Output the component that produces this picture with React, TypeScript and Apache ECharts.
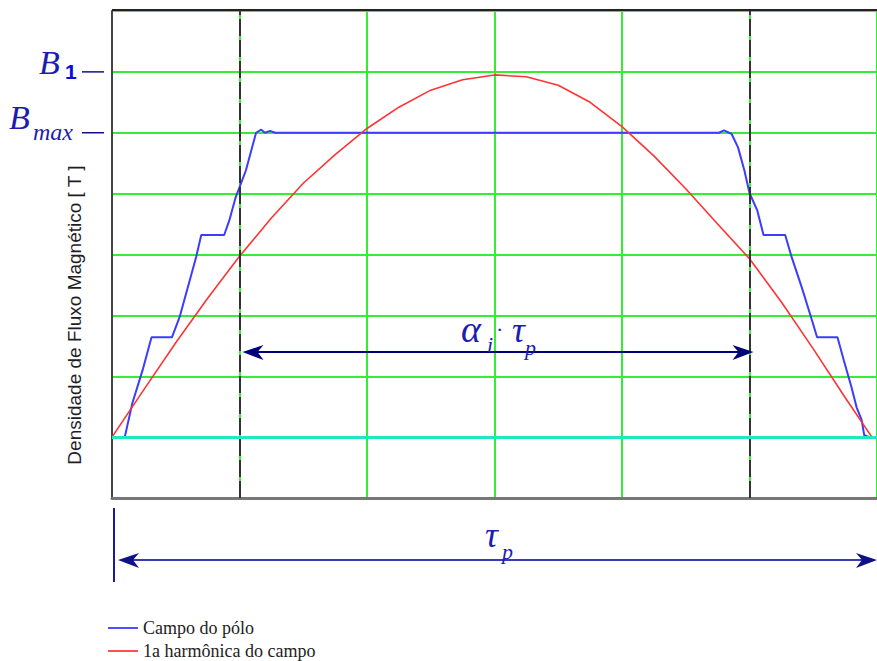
import React, { useEffect, useRef } from "react";
import * as echarts from "echarts";

// Pole field (flux density under one pole pitch), in grid units
const poleX = [0, 0.1, 0.16, 0.24, 0.31, 0.47, 0.53, 0.66, 0.7, 0.88, 0.92, 0.97, 1.05, 1.13, 1.17, 1.2, 1.24, 1.28, 2.0, 3.0, 4.0, 4.76, 4.8, 4.84, 4.86, 4.91, 4.96, 5.0, 5.06, 5.11, 5.28, 5.33, 5.41, 5.49, 5.53, 5.69, 5.74, 5.8, 5.84, 5.88, 5.9, 5.94, 6.0];
const poleB = [0, 0, 0.56, 1.1, 1.64, 1.64, 1.97, 2.96, 3.32, 3.32, 3.56, 3.94, 4.38, 5.0, 5.05, 5.0, 5.03, 5.0, 5.0, 5.0, 5.0, 5.0, 5.04, 5.0, 4.98, 4.76, 4.38, 4.01, 3.73, 3.32, 3.32, 2.96, 2.46, 1.92, 1.64, 1.64, 1.26, 0.82, 0.49, 0.28, 0.03, 0, 0];

// First harmonic of the field
const harmX = [0, 0.25, 0.5, 0.75, 1.0, 1.25, 1.5, 1.75, 2.0, 2.25, 2.5, 2.75, 3.0, 3.25, 3.5, 3.75, 4.0, 4.25, 4.5, 4.75, 5.0, 5.25, 5.5, 5.75, 5.96];
const harmB = [0, 0.78, 1.55, 2.28, 2.97, 3.6, 4.17, 4.64, 5.07, 5.42, 5.7, 5.87, 5.95, 5.92, 5.78, 5.5, 5.1, 4.62, 4.08, 3.5, 2.93, 2.22, 1.45, 0.65, 0];

const seriesNames = ["Campo do pólo", "1a harmônica do campo"];
const yAxisTitle = "Densidade de Fluxo Magnético [ T ]";
const alphaSpan = [1, 5]; // α_i·τ_p boundaries (dashed lines)
const B1Level = 6;
const BmaxLevel = 5;

const GREEN = "#33ee33";
const NAVY = "#10108a";
const MATH = "#1c1cb0";

export default function App() {
  const ref = useRef<HTMLDivElement>(null);

  useEffect(() => {
    if (!ref.current) return;
    const chart = echarts.init(ref.current, null, { renderer: "svg" });

    const serif = "'Liberation Serif', 'DejaVu Serif', serif";
    const sans = "'Liberation Sans', Arial, sans-serif";

    const gridLeft = 112;
    const gridTop = 11;
    const gridW = 771;
    const gridH = 487;
    const yPx = (v: number) => gridTop + ((7 - v) / 8) * gridH;
    const xPx = (v: number) => gridLeft + (v / 6) * gridW;

    const arrowL = (x: number, y: number, c: string) => ({
      type: "polygon",
      shape: { points: [[x, y], [x + 21, y - 7], [x + 15, y], [x + 21, y + 8]] },
      style: { fill: c },
      z: 100,
    });
    const arrowR = (x: number, y: number, c: string) => ({
      type: "polygon",
      shape: { points: [[x, y], [x - 21, y - 7], [x - 15, y], [x - 21, y + 8]] },
      style: { fill: c },
      z: 100,
    });

    const aY = 352;
    const ax0 = xPx(alphaSpan[0]) + 2;
    const ax1 = xPx(alphaSpan[1]) - 1;
    const tY = 560;

    chart.setOption({
      animation: false,
      grid: { left: gridLeft, top: gridTop, width: gridW, height: gridH },
      xAxis: {
        type: "value",
        min: 0,
        max: 6,
        interval: 1,
        axisLine: { onZero: false, lineStyle: { color: "#777", width: 3 } },
        axisTick: { show: false },
        axisLabel: { show: false },
        splitLine: {
          show: true,
          lineStyle: {
            color: ["rgba(0,0,0,0)", GREEN, GREEN, GREEN, GREEN, GREEN, GREEN],
            width: 2,
          },
        },
      },
      yAxis: {
        type: "value",
        min: -1,
        max: 7,
        interval: 1,
        axisLine: { show: true, onZero: false, lineStyle: { color: "#444", width: 2 } },
        axisTick: { show: false },
        axisLabel: { show: false },
        splitLine: {
          show: true,
          lineStyle: {
            color: ["rgba(0,0,0,0)", GREEN, GREEN, GREEN, GREEN, GREEN, GREEN, GREEN, GREEN],
            width: 2,
          },
        },
      },
      legend: {
        orient: "vertical",
        left: 108,
        top: 619,
        height: 60,
        padding: 0,
        itemWidth: 30,
        itemHeight: 2,
        itemGap: 5,
        icon: "rect",
        textStyle: { fontFamily: serif, fontSize: 18, color: "#222", lineHeight: 18 },
        data: seriesNames,
      },
      series: [
        {
          type: "line",
          name: "guides",
          data: [],
          silent: true,
          z: 1,
          markLine: {
            silent: true,
            symbol: "none",
            label: { show: false },
            data: [
              { yAxis: 0, lineStyle: { color: "#22e8c0", width: 3, type: "solid" } },
              { xAxis: alphaSpan[0], lineStyle: { color: "#333", width: 2, type: [17, 4] } },
              { xAxis: alphaSpan[1], lineStyle: { color: "#333", width: 2, type: [17, 4] } },
            ],
          },
        },
        {
          type: "line",
          name: seriesNames[0],
          data: poleX.map((x, i) => [x, poleB[i]]),
          showSymbol: false,
          color: "#5050ff",
          lineStyle: { color: "#3c3cff", width: 2 },
          z: 3,
        },
        {
          type: "line",
          name: seriesNames[1],
          data: harmX.map((x, i) => [x, harmB[i]]),
          showSymbol: false,
          color: "#ff5050",
          lineStyle: { color: "#ff3333", width: 1.6 },
          z: 4,
        },
      ],
      graphic: [
        // top frame line
        { type: "line", shape: { x1: gridLeft, y1: gridTop - 1, x2: 877, y2: gridTop - 1 }, style: { stroke: "#222", lineWidth: 2 }, z: 100 },
        // y-axis title
        {
          type: "text",
          x: 74,
          y: 315,
          rotation: Math.PI / 2,
          style: { text: yAxisTitle, font: `19px ${sans}`, fill: "#1e1e2a", align: "center", verticalAlign: "middle" },
          z: 100,
        },
        // B1 label
        { type: "text", x: 39, y: 62, style: { text: "B", font: `italic 34px ${serif}`, fill: MATH, verticalAlign: "middle" }, z: 100 },
        { type: "text", x: 65, y: 71, style: { text: "1", font: `bold 21px ${sans}`, fill: "#0a0ae0", verticalAlign: "middle" }, z: 100 },
        { type: "line", shape: { x1: 82, y1: yPx(B1Level), x2: 104, y2: yPx(B1Level) }, style: { stroke: NAVY, lineWidth: 1.5 }, z: 100 },
        // Bmax label
        { type: "text", x: 9, y: 117, style: { text: "B", font: `italic 34px ${serif}`, fill: MATH, verticalAlign: "middle" }, z: 100 },
        { type: "text", x: 33, y: 132, style: { text: "max", font: `italic 24px ${serif}`, fill: MATH, verticalAlign: "middle" }, z: 100 },
        { type: "line", shape: { x1: 82, y1: yPx(BmaxLevel), x2: 104, y2: yPx(BmaxLevel) }, style: { stroke: NAVY, lineWidth: 1.5 }, z: 100 },
        // α_i · τ_p span
        { type: "line", shape: { x1: ax0 + 6, y1: aY, x2: ax1 - 6, y2: aY }, style: { stroke: "#00007a", lineWidth: 2 }, z: 100 },
        arrowL(ax0, aY, "#00007a"),
        arrowR(ax1, aY, "#00007a"),
        { type: "text", x: 461, y: 329, style: { text: "α", font: `italic 38px ${serif}`, fill: MATH, verticalAlign: "middle" }, z: 100 },
        { type: "text", x: 487, y: 344, style: { text: "i", font: `italic 22px ${serif}`, fill: MATH, verticalAlign: "middle" }, z: 100 },
        { type: "text", x: 496, y: 329, style: { text: "·", font: `22px ${serif}`, fill: MATH, verticalAlign: "middle" }, z: 100 },
        { type: "text", x: 512, y: 330, style: { text: "τ", font: `italic 36px ${serif}`, fill: MATH, verticalAlign: "middle" }, z: 100 },
        { type: "text", x: 525, y: 347, style: { text: "p", font: `italic 22px ${serif}`, fill: MATH, verticalAlign: "middle" }, z: 100 },
        // τ_p span
        { type: "line", shape: { x1: 114, y1: 508, x2: 114, y2: 582 }, style: { stroke: "#1a1a9a", lineWidth: 2 }, z: 100 },
        { type: "line", shape: { x1: 124, y1: tY, x2: 872, y2: tY }, style: { stroke: "#3a3ab4", lineWidth: 2 }, z: 100 },
        arrowL(118, tY, "#101088"),
        arrowR(877, tY, "#101088"),
        { type: "text", x: 485, y: 535, style: { text: "τ", font: `italic 36px ${serif}`, fill: MATH, verticalAlign: "middle" }, z: 100 },
        { type: "text", x: 502, y: 551, style: { text: "p", font: `italic 22px ${serif}`, fill: MATH, verticalAlign: "middle" }, z: 100 },
      ],
    });

    return () => chart.dispose();
  }, []);

  return (
    <div
      ref={ref}
      style={{ position: "absolute", left: 0, top: 0, width: 877, height: 661, background: "#fff" }}
    />
  );
}
